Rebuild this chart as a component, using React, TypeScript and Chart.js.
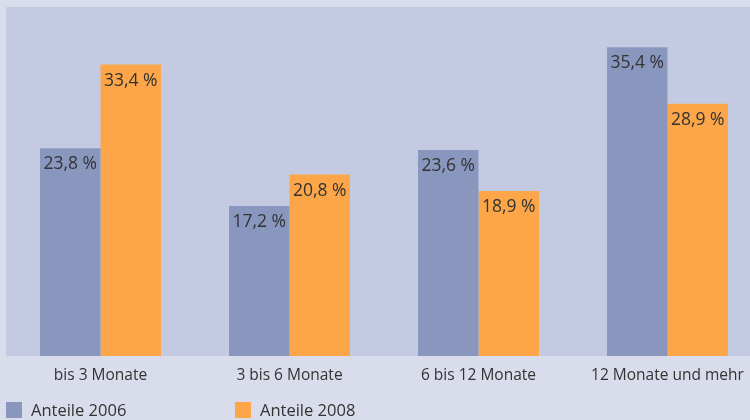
import React, { useEffect, useRef } from "react";
import { Chart, registerables } from "chart.js";

Chart.register(...registerables);

const categories = ["bis 3 Monate", "3 bis 6 Monate", "6 bis 12 Monate", "12 Monate und mehr"];
const seriesLabels = ["Anteile 2006", "Anteile 2008"];
const values2006 = [23.8, 17.2, 23.6, 35.4];
const values2008 = [33.4, 20.8, 18.9, 28.9];
const yMax = 40;

const BLUE = "#8997bf";
const ORANGE = "#fca649";
const PLOT_BG = "#c5cae3";
const PAGE_BG = "#d9dcea";
const TEXT = "#333333";
const FONT = "'Open Sans', 'DejaVu Sans', sans-serif";

const fmt = (v: number) => v.toFixed(1).replace(".", ",") + " %";

const customPlugin = {
  id: "custom",
  beforeDraw(chart: any) {
    const { ctx, chartArea, width, height } = chart;
    ctx.save();
    ctx.fillStyle = PAGE_BG;
    ctx.fillRect(0, 0, width, height);
    ctx.fillStyle = PLOT_BG;
    ctx.fillRect(chartArea.left, chartArea.top, chartArea.right - chartArea.left, chartArea.bottom - chartArea.top);
    ctx.restore();
  },
  afterDatasetsDraw(chart: any) {
    const { ctx } = chart;
    ctx.save();
    ctx.font = `17.5px ${FONT}`;
    ctx.fillStyle = TEXT;
    ctx.textAlign = "center";
    ctx.textBaseline = "middle";
    chart.data.datasets.forEach((ds: any, di: number) => {
      const meta = chart.getDatasetMeta(di);
      meta.data.forEach((bar: any, i: number) => {
        ctx.fillText(fmt(ds.data[i]), bar.x, bar.y + 16);
      });
    });
    // legend
    const legendX = [6, 235];
    ctx.textAlign = "left";
    ctx.textBaseline = "middle";
    ctx.font = `16.5px ${FONT}`;
    chart.data.datasets.forEach((ds: any, di: number) => {
      const x = legendX[di];
      ctx.fillStyle = ds.backgroundColor;
      ctx.fillRect(x, 402, 16, 16);
      ctx.fillStyle = TEXT;
      ctx.fillText(ds.label, x + 25, 411);
    });
    ctx.restore();
  },
};

export default function App() {
  const ref = useRef<HTMLCanvasElement | null>(null);
  useEffect(() => {
    if (!ref.current) return;
    const chart = new Chart(ref.current, {
      type: "bar",
      data: {
        labels: categories,
        datasets: [
          { label: seriesLabels[0], data: values2006, backgroundColor: BLUE },
          { label: seriesLabels[1], data: values2008, backgroundColor: ORANGE },
        ],
      },
      options: {
        responsive: false,
        animation: false,
        layout: { padding: { top: 7, left: 6, right: 0, bottom: 0 } },
        plugins: { legend: { display: false }, tooltip: { enabled: false } },
        datasets: { bar: { categoryPercentage: 0.64, barPercentage: 1 } },
        scales: {
          x: {
            grid: { display: false },
            border: { display: false },
            ticks: { color: TEXT, font: { family: FONT, size: 15.5 }, padding: 2, maxRotation: 0 },
            afterFit: (s: any) => {
              s.height = 64;
            },
          },
          y: { display: false, min: 0, max: yMax },
        },
      },
      plugins: [customPlugin],
    });
    return () => chart.destroy();
  }, []);
  return (
    <div style={{ position: "absolute", left: 0, top: 0, width: 750, height: 420, overflow: "hidden" }}>
      <canvas ref={ref} width={762} height={420} style={{ display: "block" }} />
    </div>
  );
}
